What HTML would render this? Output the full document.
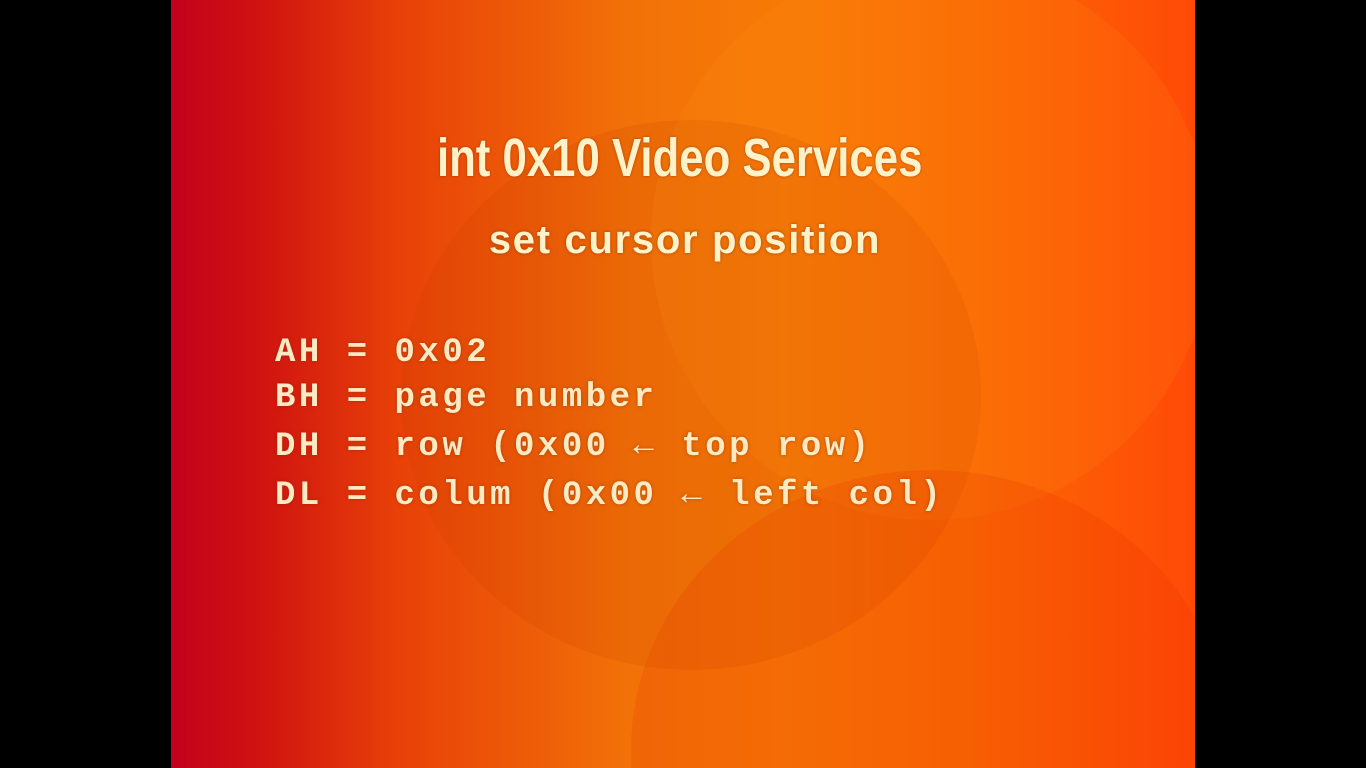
<!DOCTYPE html>
<html><head><meta charset="utf-8"><style>
html,body{margin:0;padding:0;width:1366px;height:768px;background:#000;overflow:hidden;position:relative}
#s{position:absolute;left:171px;top:0;width:1024px;height:768px;overflow:hidden;
background:linear-gradient(90deg,#c4001c 0%,#d01410 9%,#e84008 22%,#f27208 45%,#f77a06 60%,#fb6a04 78%,#ff4a06 100%)}
.c{position:absolute;border-radius:50%}
.t{position:absolute;color:#fff2c8;text-shadow:0 0 3px rgba(120,40,0,.6);white-space:nowrap}
.code{position:absolute;left:104px;font-family:"Liberation Mono",monospace;font-weight:bold;font-size:34px;letter-spacing:3.5px;color:#fde9c2;white-space:pre;line-height:40px;text-shadow:0 0 3px rgba(120,40,0,.5)}
</style></head><body>
<div id="s">
 <div class="c" style="left:230px;top:120px;width:580px;height:550px;background:rgba(200,60,0,0.16)"></div>
 <div class="c" style="left:480px;top:-40px;width:560px;height:560px;background:rgba(255,150,20,0.14)"></div>
 <div class="c" style="left:460px;top:470px;width:600px;height:298px;border-radius:300px 300px 0 0/280px 280px 0 0;background:rgba(230,40,0,0.16)"></div>
 <div class="t" style="left:0;width:1024px;top:128px;text-align:center;font-family:'Liberation Sans',sans-serif;font-weight:bold;font-size:54px;line-height:60px"><span style="display:inline-block;transform:scaleX(0.81);margin-left:-6px">int 0x10 Video Services</span></div>
 <div class="t" style="left:0;width:1024px;top:216px;text-align:center;font-family:'Liberation Sans',sans-serif;font-weight:bold;font-size:40px;line-height:48px;letter-spacing:1.7px"><span style="margin-left:4px">set cursor position</span></div>
 <div class="code" style="top:333px">AH = 0x02</div>
 <div class="code" style="top:378px">BH = page number</div>
 <div class="code" style="top:427px">DH = row (0x00 ← top row)</div>
 <div class="code" style="top:476px">DL = colum (0x00 ← left col)</div>
</div>
</body></html>
